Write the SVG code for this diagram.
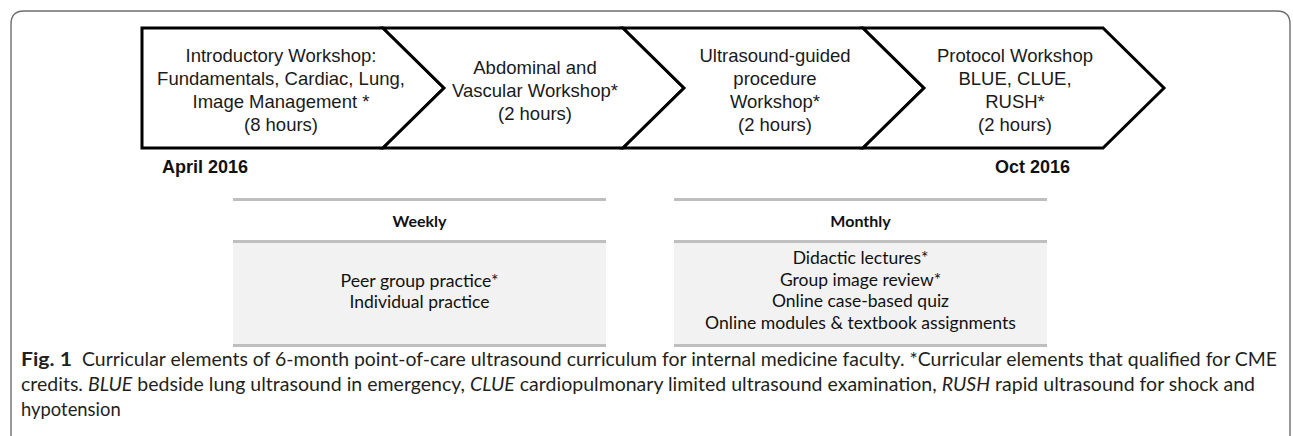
<svg xmlns="http://www.w3.org/2000/svg" width="1293" height="436" viewBox="0 0 1293 436">
  <style>
    .step { fill: #ffffff; stroke: #000000; stroke-width: 3; stroke-linejoin: miter; }
    .step-text { font-family: "Liberation Sans", Arial, sans-serif; font-size: 18.5px; fill: #1a1a1a; text-anchor: middle; }
    .date { font-family: "Liberation Sans", Arial, sans-serif; font-size: 18px; font-weight: bold; fill: #111111; }
    .rule { stroke: #bfbfbf; stroke-width: 3; }
    .panel-fill { fill: #f2f2f2; }
    .panel-head { font-family: Lato, "Open Sans", sans-serif; font-size: 16px; font-weight: bold; fill: #111111; text-anchor: middle; }
    .panel-text { font-family: Lato, "Open Sans", sans-serif; font-size: 17.5px; fill: #111111; text-anchor: middle; }
    .caption { font-family: Lato, "Open Sans", sans-serif; font-size: 18.4px; fill: #231f20; }
    .caption-bold { font-weight: bold; font-size: 19.5px; }
    .caption-em { font-style: italic; }
    .frame { fill: none; stroke: #6d6e71; stroke-width: 1.4; }
  </style>

  <rect width="1293" height="436" fill="#ffffff"/>

  <!-- outer figure frame, open at the bottom -->
  <path class="frame" d="M11,450 L11,24 Q11,11 24,11 L1277,11 Q1290,11 1290,24 L1290,450"/>

  <!-- the steps abut one another, so no separate connector lines are drawn -->
  <g id="connectors"></g>

  <g id="step-intro">
    <path class="step" d="M142,28 L383,28 L444,88 L383,148 L142,148 Z"/>
    <text class="step-text" x="281" y="62">Introductory Workshop:</text>
    <text class="step-text" x="281" y="85">Fundamentals, Cardiac, Lung,</text>
    <text class="step-text" x="281" y="108">Image Management *</text>
    <text class="step-text" x="281" y="131">(8 hours)</text>
  </g>

  <g id="step-abdominal">
    <path class="step" d="M383,28 L623,28 L684,88 L623,148 L383,148 L444,88 Z"/>
    <text class="step-text" x="535" y="73.5">Abdominal and</text>
    <text class="step-text" x="535" y="96.5">Vascular Workshop*</text>
    <text class="step-text" x="535" y="119.5">(2 hours)</text>
  </g>

  <g id="step-procedure">
    <path class="step" d="M623,28 L863,28 L924,88 L863,148 L623,148 L684,88 Z"/>
    <text class="step-text" x="775" y="62">Ultrasound-guided</text>
    <text class="step-text" x="775" y="85">procedure</text>
    <text class="step-text" x="775" y="108">Workshop*</text>
    <text class="step-text" x="775" y="131">(2 hours)</text>
  </g>

  <g id="step-protocol">
    <path class="step" d="M863,28 L1103,28 L1164,88 L1103,148 L863,148 L924,88 Z"/>
    <text class="step-text" x="1015" y="62">Protocol Workshop</text>
    <text class="step-text" x="1015" y="85">BLUE, CLUE,</text>
    <text class="step-text" x="1015" y="108">RUSH*</text>
    <text class="step-text" x="1015" y="131">(2 hours)</text>
  </g>

  <g id="dates">
    <text class="date" x="162" y="173">April 2016</text>
    <text class="date" x="995" y="173">Oct 2016</text>
  </g>

  <!-- recurring activities -->
  <g id="panel-weekly">
    <rect class="panel-fill" x="233" y="242" width="373" height="103"/>
    <line class="rule" x1="233" y1="199.5" x2="606" y2="199.5"/>
    <line class="rule" x1="233" y1="241.5" x2="606" y2="241.5"/>
    <line class="rule" x1="233" y1="345.5" x2="606" y2="345.5"/>
    <text class="panel-head" x="419.5" y="227">Weekly</text>
    <text class="panel-text" x="419.5" y="287" textLength="158" lengthAdjust="spacingAndGlyphs">Peer group practice*</text>
    <text class="panel-text" x="419.5" y="308">Individual practice</text>
  </g>

  <g id="panel-monthly">
    <rect class="panel-fill" x="674" y="242" width="373" height="103"/>
    <line class="rule" x1="674" y1="199.5" x2="1047" y2="199.5"/>
    <line class="rule" x1="674" y1="241.5" x2="1047" y2="241.5"/>
    <line class="rule" x1="674" y1="345.5" x2="1047" y2="345.5"/>
    <text class="panel-head" x="860.5" y="227">Monthly</text>
    <text class="panel-text" x="860.5" y="264">Didactic lectures*</text>
    <text class="panel-text" x="860.5" y="285.5">Group image review*</text>
    <text class="panel-text" x="860.5" y="307">Online case-based quiz</text>
    <text class="panel-text" x="860.5" y="328.5" textLength="311" lengthAdjust="spacingAndGlyphs">Online modules &amp; textbook assignments</text>
  </g>

  <!-- figure caption -->
  <g id="caption">
    <text class="caption caption-bold" x="21" y="366" textLength="51" lengthAdjust="spacingAndGlyphs">Fig. 1</text>
    <text class="caption" x="82" y="366" textLength="1195" lengthAdjust="spacingAndGlyphs">Curricular elements of 6-month point-of-care ultrasound curriculum for internal medicine faculty. *Curricular elements that qualified for CME</text>
    <text class="caption" x="21" y="391" textLength="1234" lengthAdjust="spacingAndGlyphs">credits. <tspan class="caption-em">BLUE</tspan> bedside lung ultrasound in emergency, <tspan class="caption-em">CLUE</tspan> cardiopulmonary limited ultrasound examination, <tspan class="caption-em">RUSH</tspan> rapid ultrasound for shock and</text>
    <text class="caption" x="21" y="416">hypotension</text>
  </g>
</svg>
